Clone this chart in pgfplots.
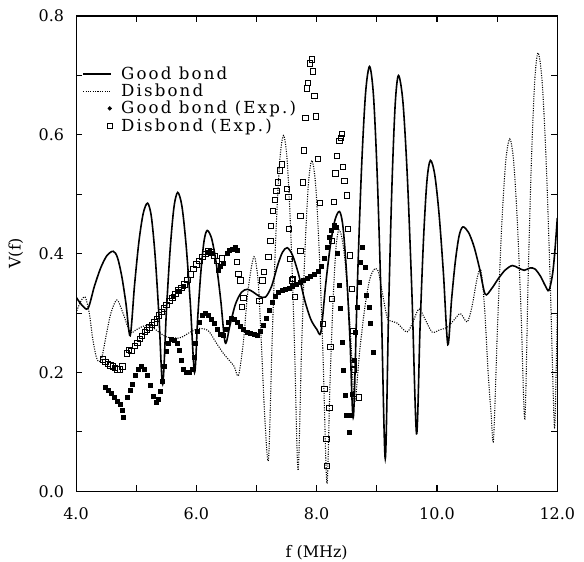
\documentclass[border=0pt]{standalone}
\usepackage{fontspec}
\setmainfont{DejaVu Serif}
\newfontfamily\legfont[LetterSpace=13]{DejaVu Serif}
\usepackage{pgfplots}
\pgfplotsset{compat=1.18}
\pgfplotsset{
  lineleg/.style={legend image code/.code={\path[draw=none,fill=none] (0bp,-3bp) rectangle (24bp,3bp); \draw[##1] (0bp,0bp) -- (21bp,0bp);}},
  dotleg/.style={legend image code/.code={\path[draw=none,fill=none] (0bp,-3bp) rectangle (24bp,3bp); \draw[##1, mark=*, mark size=1.4bp] plot coordinates {(20bp,0bp)};}},
  sqleg/.style={legend image code/.code={\path[draw=none,fill=none] (0bp,-3bp) rectangle (24bp,3bp); \draw[##1, mark size=1.7bp] plot coordinates {(20bp,0bp)};}},
}
\begin{document}
\begin{tikzpicture}
\useasboundingbox (-57bp,-52.5bp) rectangle (380.8bp,368.3bp);
\begin{axis}[
  scale only axis, width=360.8bp, height=356.3bp,
  xmin=4, xmax=12, ymin=0, ymax=0.8,
  xtick={4,5,6,7,8,9,10,11,12},
  xticklabels={4.0,,6.0,,8.0,,10.0,,12.0},
  ytick={0,0.1,0.2,0.3,0.4,0.5,0.6,0.7,0.8},
  yticklabels={0.0,,0.2,,0.4,,0.6,,0.8},
  tick align=inside, major tick length=4.5bp,
  axis line style={line width=0.8pt},
  tick style={line width=0.8pt, black},
  /pgf/number format/assume math mode=true,
  ticklabel style={font=\fontsize{12}{14}\selectfont},
  xticklabel style={yshift=-9bp},
  yticklabel style={xshift=-5.5bp},
  xlabel={f (MHz)}, ylabel={V(f)},
  xlabel style={at={(axis description cs:0.5,-0.129)}, anchor=center, font=\fontsize{12}{14}\selectfont},
  ylabel style={at={(axis description cs:-0.125,0.5)}, anchor=center, font=\fontsize{12}{14}\selectfont},
  legend cell align=left,
  legend style={at={(axis description cs:0.0125,0.897)}, anchor=north west, draw=none, fill=none,
    font=\legfont\fontsize{12.5}{14}\selectfont, row sep=0pt, inner sep=0pt,
    nodes={inner sep=1bp},
    /tikz/every odd column/.append style={column sep=3.5bp}},
]
\addplot[black, line width=1.2pt, smooth, mark=none, lineleg]
coordinates {
(4.00,0.327)(4.10,0.313)(4.20,0.308)(4.305,0.345)(4.41,0.376)(4.515,0.397)(4.62,0.404)
(4.69,0.393)(4.76,0.362)(4.83,0.316)(4.90,0.262)(4.9725,0.347)(5.045,0.420)(5.1175,0.468)
(5.19,0.485)(5.2525,0.462)(5.315,0.396)(5.3775,0.297)(5.44,0.180)(5.5025,0.304)(5.565,0.408)
(5.6275,0.478)(5.69,0.503)(5.76,0.480)(5.83,0.414)(5.90,0.316)(5.97,0.200)(6.0225,0.292)
(6.075,0.369)(6.1275,0.421)(6.18,0.439)(6.255,0.425)(6.33,0.384)(6.405,0.322)(6.48,0.250)
(6.56,0.280)(6.65,0.315)(6.75,0.335)(6.85,0.340)(6.95,0.335)(7.05,0.328)(7.15,0.327)
(7.25,0.345)(7.35,0.380)(7.43,0.402)(7.51,0.410)(7.60,0.397)(7.70,0.365)(7.80,0.322)
(7.90,0.290)(8.00,0.273)(8.07,0.268)(8.1475,0.346)(8.225,0.412)(8.3025,0.456)(8.38,0.471)
(8.4375,0.445)(8.495,0.370)(8.5525,0.258)(8.61,0.125)(8.6775,0.351)(8.745,0.542)(8.8125,0.670)
(8.88,0.715)(8.945,0.665)(9.01,0.522)(9.075,0.308)(9.14,0.055)(9.195,0.302)(9.25,0.511)
(9.305,0.651)(9.36,0.700)(9.435,0.654)(9.51,0.523)(9.585,0.328)(9.66,0.097)(9.7175,0.273)
(9.775,0.422)(9.8325,0.522)(9.89,0.557)(9.9625,0.533)(10.035,0.466)(10.1075,0.366)(10.18,0.247)
(10.2425,0.323)(10.305,0.387)(10.3675,0.430)(10.43,0.445)(10.5225,0.436)(10.615,0.412)
(10.7075,0.375)(10.80,0.332)(10.90,0.340)(11.02,0.358)(11.13,0.372)(11.25,0.380)(11.35,0.376)
(11.45,0.372)(11.55,0.376)(11.63,0.374)(11.72,0.362)(11.80,0.346)(11.86,0.338)(11.92,0.365)
(11.96,0.405)(12.00,0.460)
};
\addlegendentry{Good bond}
\addplot[black, line width=0.8pt, densely dotted, smooth, mark=none, lineleg]
coordinates {
(4.00,0.300)(4.07,0.318)(4.15,0.327)(4.22,0.300)(4.28,0.255)(4.35,0.222)(4.42,0.222)
(4.50,0.262)(4.58,0.300)(4.68,0.322)(4.78,0.300)(4.90,0.268)(5.00,0.272)(5.12,0.278)
(5.23,0.279)(5.35,0.270)(5.50,0.260)(5.65,0.258)(5.75,0.259)(5.90,0.268)(6.05,0.274)
(6.20,0.270)(6.33,0.250)(6.45,0.232)(6.55,0.220)(6.63,0.210)(6.70,0.195)(6.78,0.250)
(6.85,0.330)(6.92,0.380)(6.97,0.394)(7.03,0.350)(7.08,0.250)(7.14,0.120)(7.20,0.055)
(7.2625,0.263)(7.325,0.440)(7.3875,0.558)(7.45,0.599)(7.51,0.556)(7.57,0.434)(7.63,0.251)
(7.69,0.035)(7.7475,0.235)(7.805,0.404)(7.8625,0.517)(7.92,0.557)(7.9825,0.516)(8.045,0.398)
(8.1075,0.221)(8.17,0.013)(8.22,0.177)(8.27,0.315)(8.32,0.408)(8.37,0.440)(8.435,0.418)
(8.50,0.355)(8.565,0.261)(8.63,0.150)(8.715,0.236)(8.80,0.309)(8.885,0.358)(8.97,0.375)
(9.03,0.368)(9.09,0.335)(9.17,0.293)(9.22,0.287)(9.34,0.283)(9.50,0.268)(9.60,0.285)
(9.70,0.307)(9.80,0.290)(9.92,0.268)(10.05,0.272)(10.17,0.276)(10.28,0.288)(10.39,0.299)
(10.50,0.285)(10.58,0.310)(10.67,0.360)(10.73,0.372)(10.79,0.310)(10.85,0.200)(10.90,0.130)
(10.94,0.088)(11.0075,0.281)(11.075,0.445)(11.1425,0.555)(11.21,0.593)(11.2725,0.557)
(11.335,0.455)(11.3975,0.302)(11.46,0.122)(11.515,0.358)(11.57,0.558)(11.625,0.691)
(11.68,0.738)(11.7475,0.690)(11.815,0.554)(11.8825,0.351)(11.95,0.111)(11.98,0.200)(12.00,0.300)
};
\addlegendentry{Disbond}
\addplot[black, only marks, mark=square*, mark size=1.5bp, dotleg]
coordinates {
(4.48,0.175)(4.53,0.170)(4.58,0.165)(4.63,0.158)(4.68,0.152)(4.73,0.146)(4.77,0.137)(4.79,0.125)
(4.85,0.158)(4.90,0.170)(4.93,0.180)(4.98,0.195)(5.03,0.205)(5.08,0.210)(5.13,0.205)(5.18,0.195)
(5.23,0.178)(5.28,0.160)(5.33,0.150)(5.36,0.155)(5.40,0.168)(5.43,0.185)(5.46,0.210)(5.50,0.235)
(5.53,0.250)(5.58,0.256)(5.63,0.255)(5.68,0.250)(5.71,0.238)(5.75,0.220)(5.78,0.205)(5.83,0.200)
(5.88,0.200)(5.93,0.205)(5.96,0.225)(5.99,0.250)(6.02,0.270)(6.05,0.285)(6.09,0.296)(6.14,0.300)
(6.19,0.296)(6.24,0.290)(6.29,0.282)(6.34,0.272)(6.39,0.265)(6.44,0.262)(6.49,0.272)(6.53,0.285)
(6.58,0.292)(6.63,0.290)(6.68,0.285)(6.73,0.278)(6.78,0.272)(6.84,0.268)(6.90,0.266)(6.96,0.265)
(7.01,0.263)(7.06,0.270)(7.11,0.280)(7.16,0.292)(7.21,0.305)(7.26,0.318)(7.31,0.328)(7.36,0.335)
(7.42,0.338)(7.48,0.340)(7.54,0.342)(7.60,0.345)(7.66,0.348)(7.72,0.352)(7.78,0.355)(7.84,0.358)
(7.90,0.362)(7.96,0.366)(8.02,0.370)(8.08,0.378)(8.13,0.392)(8.17,0.410)(8.21,0.428)(8.25,0.440)
(8.29,0.448)(8.33,0.445)(8.35,0.400)(8.37,0.346)(8.39,0.308)(8.42,0.251)(8.45,0.203)(8.48,0.161)
(8.50,0.128)(8.55,0.100)(8.57,0.128)(8.59,0.164)(8.62,0.220)(8.64,0.268)(8.67,0.310)(8.70,0.352)
(8.73,0.386)(8.75,0.410)(8.80,0.377)(8.83,0.330)(8.87,0.310)(8.89,0.282)(8.94,0.234)
(5.62,0.328)(5.70,0.336)(5.78,0.345)(6.20,0.402)(6.26,0.400)(6.36,0.372)(6.40,0.378)(6.45,0.383)
(6.51,0.400)(6.55,0.405)(6.60,0.408)(6.64,0.410)(6.68,0.405)
};
\addlegendentry{Good bond (Exp.)}
\addplot[black, only marks, mark=square, mark size=2bp, mark options={line width=0.6bp}, sqleg]
coordinates {
(4.45,0.222)(4.49,0.218)(4.53,0.214)(4.57,0.212)(4.61,0.210)(4.65,0.208)(4.69,0.205)(4.73,0.205)
(4.77,0.210)(4.84,0.232)(4.88,0.238)(4.92,0.236)(4.98,0.245)(5.02,0.250)(5.06,0.256)(5.10,0.262)
(5.14,0.268)(5.18,0.272)(5.22,0.276)(5.26,0.280)(5.30,0.284)(5.34,0.290)(5.38,0.296)(5.42,0.302)
(5.46,0.308)(5.50,0.314)(5.55,0.320)(5.60,0.326)(5.65,0.332)(5.70,0.338)(5.75,0.342)(5.80,0.348)
(5.85,0.356)(5.90,0.365)(5.95,0.374)(6.00,0.382)(6.05,0.388)(6.10,0.394)(6.15,0.400)(6.20,0.404)
(6.25,0.402)(6.30,0.396)(6.34,0.388)(6.42,0.392)(6.67,0.386)(6.70,0.366)(6.73,0.355)(6.78,0.325)
(6.76,0.310)(7.05,0.320)(7.10,0.355)(7.12,0.369)(7.20,0.394)(7.23,0.422)(7.24,0.447)(7.27,0.472)
(7.31,0.490)(7.33,0.506)(7.35,0.520)(7.39,0.540)(7.42,0.550)(7.51,0.509)(7.53,0.495)(7.54,0.442)
(7.56,0.391)(7.59,0.355)(7.61,0.357)(7.64,0.327)(7.73,0.405)(7.73,0.464)(7.77,0.520)(7.79,0.574)
(7.81,0.629)(7.84,0.678)(7.85,0.687)(7.89,0.720)(7.92,0.727)(7.94,0.707)(7.96,0.665)(7.99,0.631)
(8.02,0.560)(8.05,0.485)(8.10,0.282)(8.13,0.172)(8.16,0.088)(8.17,0.043)(8.21,0.140)(8.23,0.243)
(8.25,0.324)(8.25,0.422)(8.29,0.487)(8.31,0.535)(8.34,0.565)(8.38,0.590)(8.40,0.595)(8.42,0.602)
(8.44,0.546)(8.46,0.523)(8.50,0.498)(8.52,0.442)(8.55,0.397)(8.59,0.341)(8.60,0.270)(8.61,0.215)
(8.62,0.204)(8.70,0.158)
};
\addlegendentry{Disbond (Exp.)}
\end{axis}
\end{tikzpicture}
\end{document}
